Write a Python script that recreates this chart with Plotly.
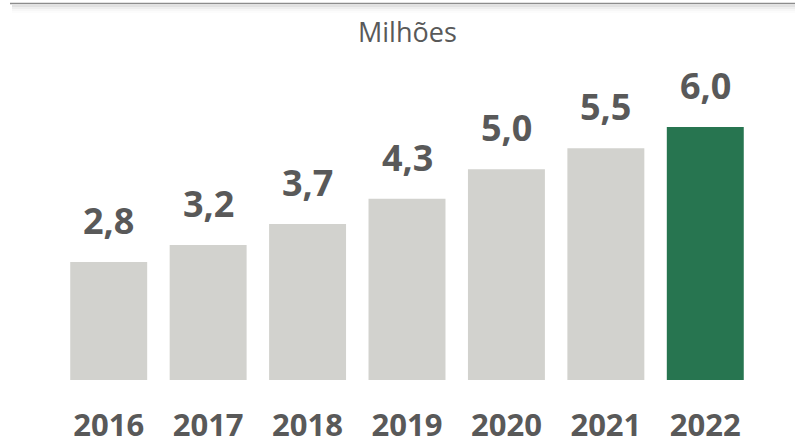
import plotly.graph_objects as go

# Data (millions)
years = ["2016", "2017", "2018", "2019", "2020", "2021", "2022"]
values = [2.8, 3.2, 3.7, 4.3, 5.0, 5.5, 6.0]

GRAY_BAR = "#D2D2CE"
GREEN_BAR = "#277550"
TEXT = "#595959"

colors = [GRAY_BAR] * (len(years) - 1) + [GREEN_BAR]

ML, MR, MT, MB = 59, 40, 106, 68
W, H = 795, 448
plot_w = W - ML - MR
plot_h = H - MT - MB


def px_to_paper_x(px):
    return (px - ML) / plot_w


def px_to_paper_y(py):
    return (H - MB - py) / plot_h


fig = go.Figure(
    go.Bar(
        x=years,
        y=values,
        marker=dict(color=colors, line=dict(width=0)),
        hoverinfo="skip",
    )
)

# Value labels above each bar, Portuguese decimal comma
# (positioned by category index so numeric-looking years stay categorical)
for i, v in enumerate(values):
    fig.add_annotation(
        x=i, y=v, xref="x", yref="y",
        text=f"{v:.1f}".replace(".", ","),
        showarrow=False, yanchor="bottom", yshift=15,
        font=dict(family="Open Sans", size=36, color=TEXT, weight="bold"),
    )

# Unit caption
fig.add_annotation(
    x=0.5, y=px_to_paper_y(31), xref="paper", yref="paper",
    yanchor="middle", text="Milhões", showarrow=False,
    font=dict(family="Open Sans", size=27, color=TEXT),
)

# Thin rule across the top with a soft shadow beneath it
shadow = ["rgba(0,0,0,0.05)", "rgba(0,0,0,0.035)", "rgba(0,0,0,0.02)", "rgba(0,0,0,0.01)"]
for i, c in enumerate(shadow):
    fig.add_shape(
        type="rect", xref="paper", yref="paper",
        x0=px_to_paper_x(12), x1=px_to_paper_x(W),
        y0=px_to_paper_y(5 + 2 * (i + 1)), y1=px_to_paper_y(5),
        line=dict(width=0), fillcolor=c, layer="above",
    )
fig.add_shape(
    type="line", xref="paper", yref="paper",
    x0=px_to_paper_x(10), x1=px_to_paper_x(W),
    y0=px_to_paper_y(3.5), y1=px_to_paper_y(3.5),
    line=dict(color="#8C8C8C", width=1.5),
)

fig.update_layout(
    width=W, height=H,
    margin=dict(l=ML, r=MR, t=MT, b=MB, autoexpand=False),
    paper_bgcolor="white", plot_bgcolor="white",
    bargap=0.226,
    showlegend=False,
    xaxis=dict(
        type="category",
        range=[-0.5, len(years) - 0.5],
        automargin=False,
        showgrid=False, zeroline=False, showline=False, ticks="",
        tickfont=dict(family="Open Sans", size=31, color=TEXT, weight="bold"),
        ticklabelstandoff=24,
    ),
    yaxis=dict(visible=False, range=[0, 6.5], automargin=False),
)

fig.write_html("out.html")
